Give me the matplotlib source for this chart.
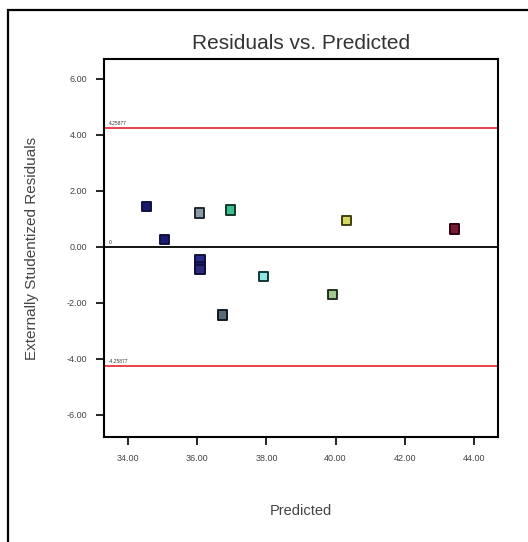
import matplotlib.pyplot as plt
import numpy as np

plt.rcParams['font.family'] = ['Liberation Sans', 'DejaVu Sans']

# predicted vs externally studentized residuals
predicted = [34.52, 35.04, 36.06, 36.96, 40.32, 43.45, 36.08, 36.08, 36.08, 37.91, 39.91, 36.73]
residuals = [1.43, 0.25, 1.21, 1.32, 0.93, 0.64, -0.46, -0.70, -0.82, -1.07, -1.71, -2.43]
fill_cols = ['#1c1a6e', '#1c1a6e', '#8a9aa8', '#3fbf8f', '#d8d860', '#7a1a30',
             '#2a2a8a', '#1c1a6e', '#2a2a7a', '#8fe8e0', '#a0c890', '#5a6878']
edge_cols = ['#101040', '#101040', '#202830', '#103828', '#404010', '#300010',
             '#101040', '#101040', '#101040', '#103838', '#203020', '#101820']

limit = 4.25
xticks = np.arange(34, 45, 2)
xtick_labels = ['34.00', '36.00', '38.00', '40.00', '42.00', '44.00']
yticks = np.arange(-6, 7, 2)
ytick_labels = ['-6.00', '-4.00', '-2.00', '0.00', '2.00', '4.00', '6.00']

fig = plt.figure(figsize=(5.28, 5.42), dpi=100)

# outer frame, cut off at right and bottom like the screenshot
frame = plt.Rectangle((8 / 528, -0.02), 1.05, 1 - 10 / 542 + 0.02, transform=fig.transFigure,
                      fill=False, edgecolor='black', linewidth=1.6)
fig.patches.append(frame)

ax = fig.add_axes([104 / 528, 1 - 437 / 542, 394 / 528, 378 / 542])

ax.axhline(limit, color='#e8202a', linewidth=1.2, zorder=1)
ax.axhline(-limit, color='#e8202a', linewidth=1.2, zorder=1)
ax.axhline(0, color='black', linewidth=1.3, zorder=1)

ax.text(33.45, limit + 0.12, '4.25877', fontsize=3.5, color='#333333')
ax.text(33.45, -limit + 0.12, '-4.25877', fontsize=3.5, color='#333333')
ax.text(33.45, 0.12, '0', fontsize=3.5, color='#333333')

ax.scatter(predicted, residuals, marker='s', s=44, c=fill_cols, edgecolors=edge_cols,
           linewidths=1.4, zorder=3)

ax.set_xlim(33.3, 44.7)
ax.set_ylim(-6.79, 6.71)
ax.set_xticks(xticks)
ax.set_xticklabels(xtick_labels)
ax.set_yticks(yticks)
ax.set_yticklabels(ytick_labels)
ax.tick_params(labelsize=6.5, length=6, width=1.2, pad=6, colors='black', labelcolor='#444444')
for sp in ax.spines.values():
    sp.set_linewidth(1.5)

ax.set_title('Residuals vs. Predicted', fontsize=15, color='#333333', pad=7)
ax.set_xlabel('Predicted', fontsize=10.5, color='#444444', labelpad=30)
ax.set_ylabel('Externally Studentized Residuals', fontsize=11, color='#444444', labelpad=20)

fig.savefig('out.png', dpi=100)
